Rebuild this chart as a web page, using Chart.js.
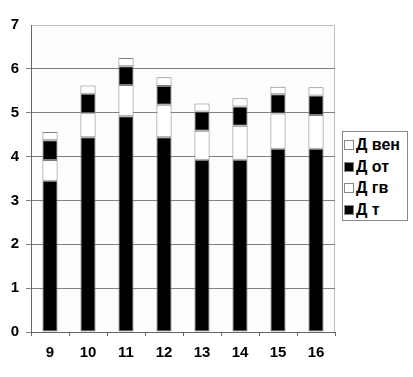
<!DOCTYPE html>
<html>
<head>
<meta charset="utf-8">
<script src="https://cdn.jsdelivr.net/npm/chart.js@4/dist/chart.umd.min.js"></script>
<style>
    html, body { margin: 0; padding: 0; background: #fff; }
    #wrap { position: relative; width: 413px; height: 377px; }
    #legenda {
        position: absolute; left: 342px; top: 131px; width: 64px; height: 86px;
        border: 1px solid #888; background: #fff;
        font-family: "Liberation Sans", Arial, sans-serif; font-weight: bold; font-size: 16px;
        padding-top: 2px; box-sizing: content-box;
    }
    .item { height: 21.5px; line-height: 21.5px; white-space: nowrap; padding-left: 1px; }
    .cuadro { display: inline-block; width: 8px; height: 8px; border: 1px solid #888; margin-right: 2px; vertical-align: 0px; }
</style>
</head>
<body>
<div id="wrap">
    <canvas id="grafico" width="413" height="377"></canvas>
    <div id="legenda"></div>
</div>
<script>
// Datos
const grupos = ["9", "10", "11", "12", "13", "14", "15", "16"];
const dT   = [3.45, 4.44, 4.92, 4.44, 3.93, 3.93, 4.18, 4.18];
const dGv  = [0.47, 0.55, 0.71, 0.74, 0.66, 0.77, 0.80, 0.77];
const dOt  = [0.45, 0.44, 0.43, 0.43, 0.44, 0.44, 0.44, 0.44];
const dVen = [0.19, 0.19, 0.19, 0.20, 0.18, 0.19, 0.17, 0.19];
const series = ["Д т", "Д гв", "Д от", "Д вен"];
const colores = ["#000000", "#ffffff", "#000000", "#ffffff"];

const datasets = [dT, dGv, dOt, dVen].map((d, i) => ({
    label: series[i],
    data: d,
    backgroundColor: colores[i],
    borderColor: "#808080",
    borderWidth: 1,
    borderSkipped: false
}));

// fondo y borde del area de trazado
const fondo = {
    id: "fondo",
    beforeDraw(chart) {
        const a = chart.chartArea, ctx = chart.ctx;
        ctx.save();
        ctx.fillStyle = "#fdfdfd";
        ctx.fillRect(a.left, a.top, a.right - a.left, a.bottom - a.top);
        ctx.strokeStyle = "#c0c0c0";
        ctx.lineWidth = 1;
        ctx.beginPath();
        ctx.moveTo(a.left, a.top + 0.5);
        ctx.lineTo(a.right - 0.5, a.top + 0.5);
        ctx.lineTo(a.right - 0.5, a.bottom);
        ctx.stroke();
        ctx.restore();
    }
};

const fuente = { family: "'Liberation Sans', Arial, sans-serif", size: 15, weight: "bold" };

new Chart(document.getElementById("grafico"), {
    type: "bar",
    data: { labels: grupos, datasets: datasets },
    options: {
        responsive: false,
        animation: false,
        categoryPercentage: 1,
        barPercentage: 0.4,
        layout: { padding: { left: 0, right: 78, top: 25, bottom: 0 } },
        plugins: { legend: { display: false }, tooltip: { enabled: false } },
        scales: {
            x: {
                stacked: true,
                afterFit: s => { s.height = 45; },
                grid: { drawOnChartArea: false, offset: true, tickLength: 4, color: "#666" },
                border: { color: "#666" },
                ticks: { color: "#000", font: fuente, padding: 8 }
            },
            y: {
                stacked: true,
                min: 0, max: 7,
                afterFit: s => { s.width = 31; },
                grid: {
                    tickLength: 5,
                    color: ctx => ctx.tick && ctx.tick.value === 7 ? "rgba(0,0,0,0)" : "#808080"
                },
                border: { color: "#666" },
                ticks: { stepSize: 1, color: "#000", font: fuente, padding: 7 }
            }
        }
    },
    plugins: [fondo]
});

// leyenda (orden inverso)
const leg = document.getElementById("legenda");
for (let i = series.length - 1; i >= 0; i--) {
    const div = document.createElement("div");
    div.className = "item";
    div.innerHTML = `<span class="cuadro" style="background:${colores[i]}"></span>${series[i]}`;
    leg.appendChild(div);
}
</script>
</body>
</html>
